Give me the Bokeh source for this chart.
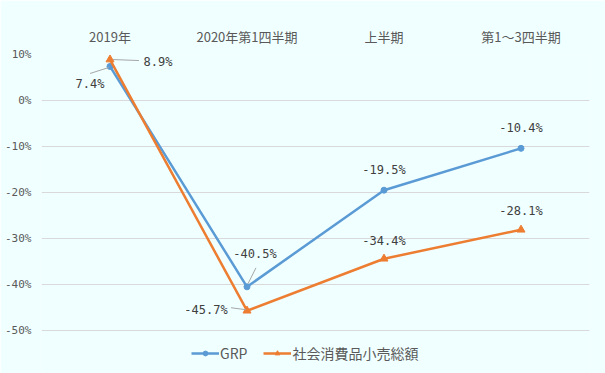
from bokeh.plotting import figure
from bokeh.models import (Range1d, FixedTicker, PrintfTickFormatter, Legend, LegendItem, ColumnDataSource)
from bokeh.core.properties import value
from bokeh.embed import file_html
from bokeh.resources import INLINE

categories = ["2019年", "2020年第1四半期", "上半期", "第1～3四半期"]
grp = [7.4, -40.5, -19.5, -10.4]
retail = [8.9, -45.7, -34.4, -28.1]
y_ticks = [-50, -40, -30, -20, -10, 0, 10]

FONT = "Noto Sans CJK JP"
MONO = "DejaVu Sans Mono"
BG = "#F0FFFF"
BLUE = "#5B9BD5"
ORANGE = "#ED7D31"

xs = list(range(len(categories)))
PX_PER_10 = 46.0
legend_room = 43  # px below the -50% line kept for the legend

p = figure(width=605, height=373, output_backend="svg", toolbar_location=None,
           x_range=Range1d(-0.5, len(categories) - 0.5),
           y_range=Range1d(min(y_ticks) - legend_room * 10 / PX_PER_10, max(y_ticks)),
           x_axis_location="above", min_border_left=41, min_border_top=54,
           min_border_bottom=0, min_border_right=16)
p.background_fill_color = BG
p.border_fill_color = BG
p.outline_line_color = None

p.xaxis.ticker = FixedTicker(ticks=xs)
p.xaxis.major_label_overrides = {i: c for i, c in enumerate(categories)}
p.xaxis.axis_line_color = None
p.xaxis.major_tick_line_color = None
p.xaxis.minor_tick_line_color = None
p.xaxis.major_tick_out = 0
p.xaxis.minor_tick_out = 0
p.xaxis.major_label_standoff = 9
p.xaxis.major_label_text_font = FONT
p.xaxis.major_label_text_font_size = "13px"
p.xaxis.major_label_text_color = "#595959"

p.yaxis.ticker = FixedTicker(ticks=y_ticks)
p.yaxis.formatter = PrintfTickFormatter(format="%d%%")
p.yaxis.axis_line_color = None
p.yaxis.major_tick_line_color = None
p.yaxis.minor_tick_line_color = None
p.yaxis.major_tick_out = 0
p.yaxis.minor_tick_out = 0
p.yaxis.major_label_standoff = 10
p.yaxis.major_label_text_font = MONO
p.yaxis.major_label_text_font_size = "11px"
p.yaxis.major_label_text_color = "#595959"

p.xgrid.grid_line_color = None
p.ygrid.grid_line_color = "#D9D9D9"
p.ygrid.ticker = FixedTicker(ticks=y_ticks)

src_g = ColumnDataSource(dict(x=xs, y=grp, lab=[f"{v}%" for v in grp]))
src_r = ColumnDataSource(dict(x=xs, y=retail, lab=[f"{v}%" for v in retail]))

lg = p.line("x", "y", source=src_g, line_color=BLUE, line_width=2.5)
cg = p.scatter("x", "y", source=src_g, marker="circle", size=6, fill_color=BLUE, line_color=BLUE)
lr = p.line("x", "y", source=src_r, line_color=ORANGE, line_width=2.5)
tr = p.scatter("x", "y", source=src_r, marker="triangle", size=8, fill_color=ORANGE, line_color=ORANGE)

# leader lines (offsets in data units: 1 category ~137px, 10% ~46px)
px = 1 / 137.25
py = 10 / PX_PER_10
lead_x0 = [xs[0] - 1 * px, xs[0] + 3 * px, xs[1] + 1 * px, xs[1] - 16 * px]
lead_y0 = [grp[0] - 1 * py, retail[0], grp[1] + 3 * py, retail[1] + 3 * py]
lead_x1 = [xs[0] - 20 * px, xs[0] + 29 * px, xs[1] + 9 * px, xs[1] - 1 * px]
lead_y1 = [grp[0] - 7 * py, retail[0] - 1 * py, grp[1] + 19 * py, retail[1] + 1 * py]
p.segment(x0=lead_x0, y0=lead_y0, x1=lead_x1, y1=lead_y1, line_color="#A6A6A6", line_width=1)

def labels(xv, yv, texts, dx, dy, align="center", base="middle"):
    p.text(x=xv, y=yv, text=texts, x_offset=dx, y_offset=dy,
           text_font=value(MONO), text_font_size="12px", text_color="#404040",
           text_align=align, text_baseline=base)

# GRP labels
labels([xs[0]], [grp[0]], [src_g.data["lab"][0]], -20, 18)
labels([xs[1]], [grp[1]], [src_g.data["lab"][1]], 8, -33)
labels(xs[2:], grp[2:], src_g.data["lab"][2:], [0, 0], [-20, -20])
# retail labels
labels([xs[0]], [retail[0]], [src_r.data["lab"][0]], 48, 2)
labels([xs[1]], [retail[1]], [src_r.data["lab"][1]], -41, -1)
labels(xs[2:], retail[2:], src_r.data["lab"][2:], [0, 0], [-18, -19])

legend = Legend(items=[LegendItem(label="GRP", renderers=[lg, cg]),
                       LegendItem(label="社会消費品小売総額", renderers=[lr, tr])],
                orientation="horizontal", location=(150, 10),
                background_fill_alpha=0, border_line_color=None,
                label_text_font=FONT, label_text_font_size="14px", label_text_color="#595959",
                glyph_width=28, glyph_height=12, spacing=16, padding=2, margin=0,
                label_standoff=1)
p.add_layout(legend, "center")

open("out.html", "w").write(file_html(p, INLINE))
